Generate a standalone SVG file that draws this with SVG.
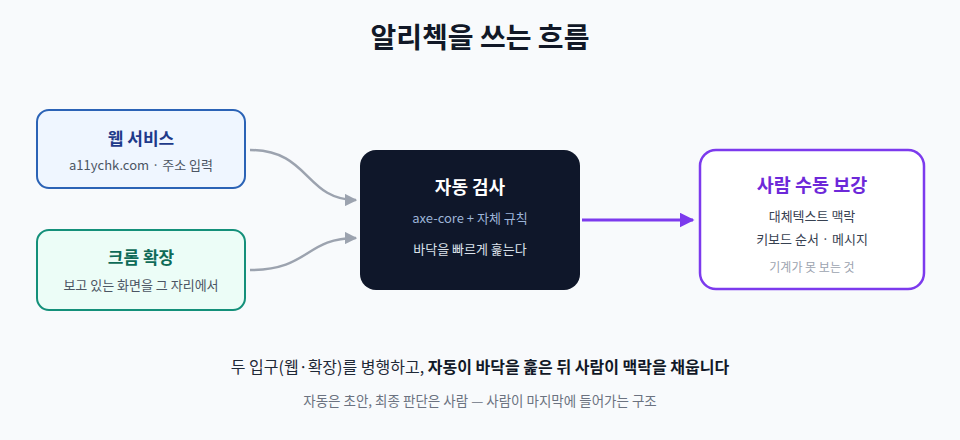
<svg xmlns="http://www.w3.org/2000/svg" width="960" height="440" viewBox="0 0 960 440">
<defs>
<style>
text{font-family:"Noto Sans CJK KR","Noto Sans",sans-serif;text-anchor:middle}
.t{font-weight:700;font-size:17px}
.s{font-size:13px;fill:#4b5563}
.conn{fill:none;stroke:#9ca3af;stroke-width:2.5}
</style>
<marker id="ag" viewBox="0 0 10 10" refX="9" refY="5" markerWidth="5" markerHeight="5" orient="auto" markerUnits="strokeWidth"><path d="M0,0 L10,5 L0,10 z" fill="#9ca3af"/></marker>
<marker id="ap" viewBox="0 0 10 10" refX="9" refY="5" markerWidth="5" markerHeight="5" orient="auto" markerUnits="strokeWidth"><path d="M0,0 L10,5 L0,10 z" fill="#7c3aed"/></marker>
</defs>
<rect width="960" height="440" fill="#f8fafc"/>
<text x="480" y="48" font-size="28" font-weight="700" fill="#111827">알리첵을 쓰는 흐름</text>
<g id="connectors">
<path class="conn" d="M250,150 C310,150 305,200 356,200" marker-end="url(#ag)"/>
<path class="conn" d="M250,270 C310,270 305,238 356,238" marker-end="url(#ag)"/>
<path d="M582,220 L693,220" fill="none" stroke="#7c3aed" stroke-width="3" marker-end="url(#ap)"/>
</g>
<g id="web">
<rect x="37" y="110" width="208" height="78" rx="12" fill="#eff6ff" stroke="#2b63b6" stroke-width="2"/>
<text class="t" x="141" y="145" fill="#1e3a8a">웹 서비스</text>
<text class="s" x="141" y="170">a11ychk.com · 주소 입력</text>
</g>
<g id="ext">
<rect x="37" y="230" width="208" height="80" rx="12" fill="#ecfdf7" stroke="#14907a" stroke-width="2"/>
<text class="t" x="141" y="264" fill="#0f6b58">크롬 확장</text>
<text class="s" x="141" y="290">보고 있는 화면을 그 자리에서</text>
</g>
<g id="auto">
<rect x="360" y="150" width="220" height="140" rx="16" fill="#0f172a"/>
<text x="470" y="194" font-size="18" font-weight="700" fill="#ffffff">자동 검사</text>
<text x="470" y="223" font-size="13" fill="#9db4d8">axe-core + 자체 규칙</text>
<text x="470" y="254" font-size="13" fill="#dbe2ea">바닥을 빠르게 훑는다</text>
</g>
<g id="human">
<rect x="700" y="150" width="224" height="139" rx="16" fill="#ffffff" stroke="#7c3aed" stroke-width="2.5"/>
<text x="812" y="192" font-size="18.5" font-weight="700" fill="#6d28d9">사람 수동 보강</text>
<text x="812" y="221" font-size="13" fill="#374151">대체텍스트 맥락</text>
<text x="812" y="244" font-size="13" fill="#374151">키보드 순서 · 메시지</text>
<text x="812" y="272" font-size="12" fill="#9ca3af">기계가 못 보는 것</text>
</g>
<text x="480" y="373" font-size="16" fill="#1f2937">두 입구(웹·확장)를 병행하고, <tspan font-weight="700" fill="#111827">자동이 바닥을 훑은 뒤 사람이 맥락을 채웁니다</tspan></text>
<text x="480" y="406" font-size="13.5" fill="#6b7280">자동은 초안, 최종 판단은 사람 — 사람이 마지막에 들어가는 구조</text>
</svg>
